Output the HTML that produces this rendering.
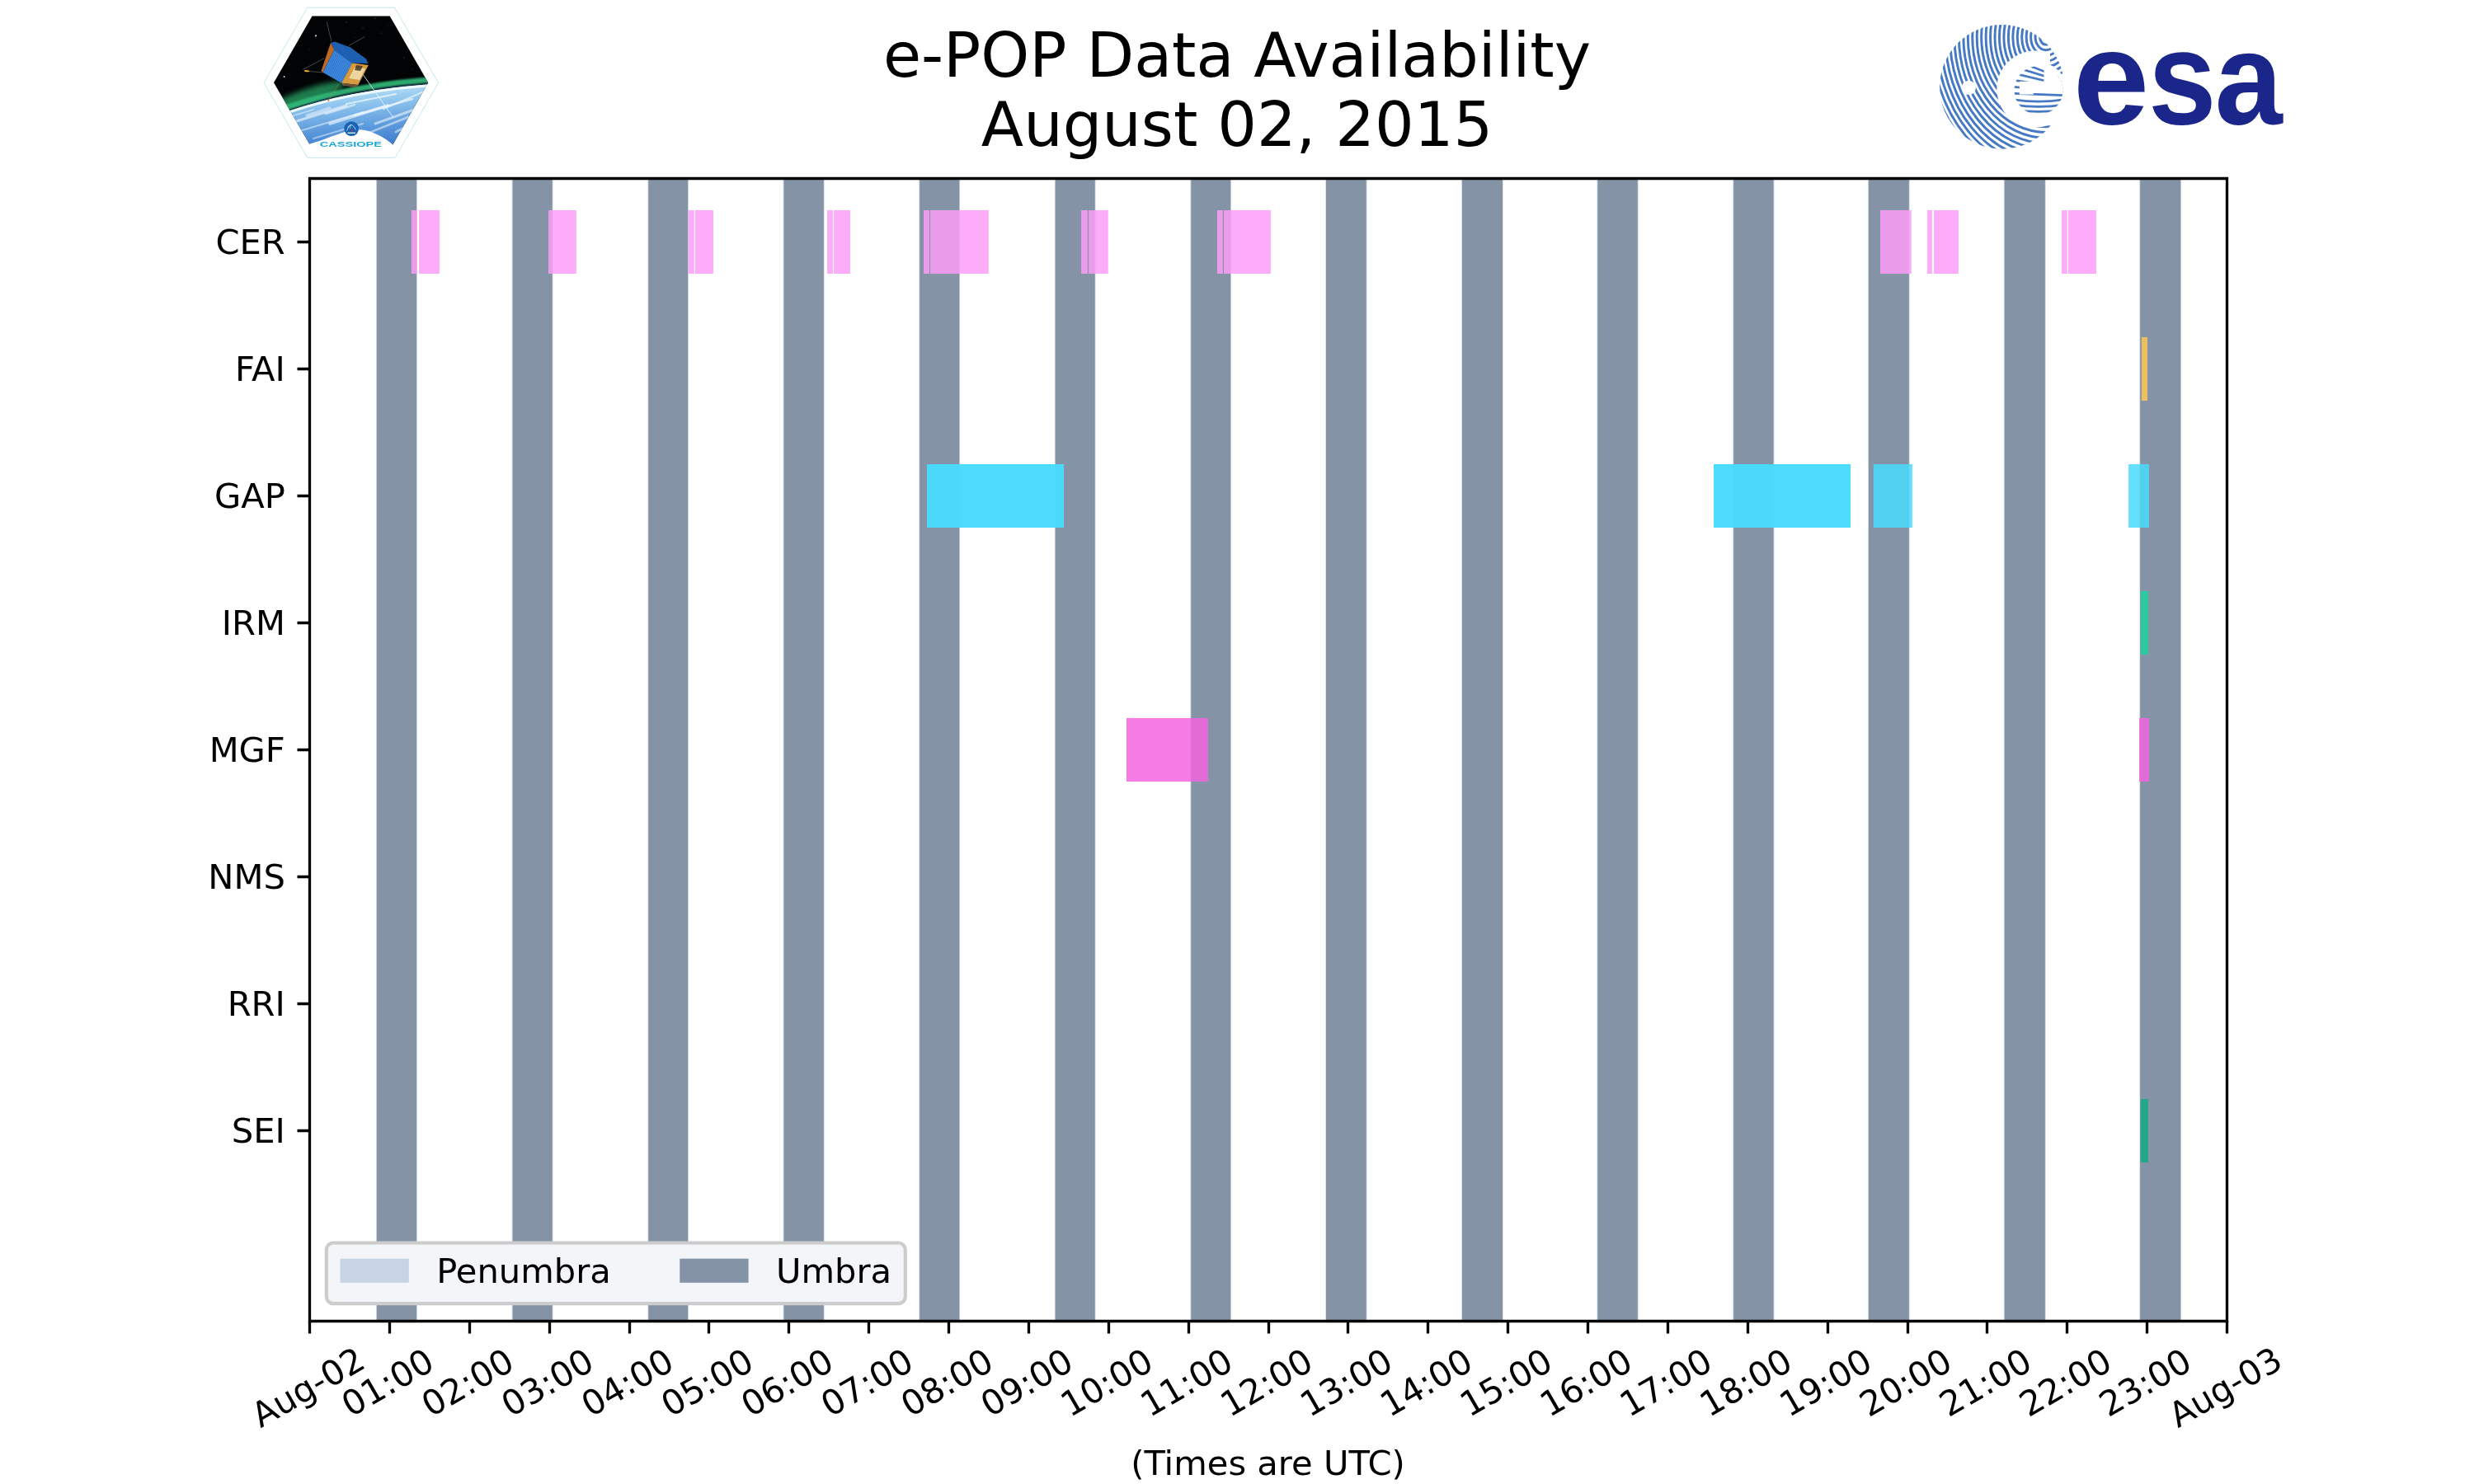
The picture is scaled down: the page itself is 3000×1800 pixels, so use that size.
<!DOCTYPE html>
<html><head><meta charset="utf-8"><title>e-POP Data Availability</title>
<style>html,body{margin:0;padding:0;background:#fff;}svg{display:block;will-change:transform}</style></head>
<body>
<svg width="3000" height="1800" viewBox="0 0 3000 1800" font-family="'DejaVu Sans', 'Liberation Sans', sans-serif" font-size="41.6667" fill="#000">
<rect width="3000" height="1800" fill="#fff"/>
<rect x="456.10" y="216" width="0.7" height="1386" fill="rgb(200,212,228)"/>
<rect x="505.10" y="216" width="0.7" height="1386" fill="rgb(200,212,228)"/>
<rect x="456.80" y="216" width="48.30" height="1386" fill="rgb(132,148,166)"/>
<rect x="620.80" y="216" width="0.7" height="1386" fill="rgb(200,212,228)"/>
<rect x="669.80" y="216" width="0.7" height="1386" fill="rgb(200,212,228)"/>
<rect x="621.50" y="216" width="48.30" height="1386" fill="rgb(132,148,166)"/>
<rect x="785.50" y="216" width="0.7" height="1386" fill="rgb(200,212,228)"/>
<rect x="834.20" y="216" width="0.7" height="1386" fill="rgb(200,212,228)"/>
<rect x="786.20" y="216" width="48.00" height="1386" fill="rgb(132,148,166)"/>
<rect x="949.70" y="216" width="0.7" height="1386" fill="rgb(200,212,228)"/>
<rect x="998.90" y="216" width="0.7" height="1386" fill="rgb(200,212,228)"/>
<rect x="950.40" y="216" width="48.50" height="1386" fill="rgb(132,148,166)"/>
<rect x="1114.40" y="216" width="0.7" height="1386" fill="rgb(200,212,228)"/>
<rect x="1163.40" y="216" width="0.7" height="1386" fill="rgb(200,212,228)"/>
<rect x="1115.10" y="216" width="48.30" height="1386" fill="rgb(132,148,166)"/>
<rect x="1278.90" y="216" width="0.7" height="1386" fill="rgb(200,212,228)"/>
<rect x="1327.80" y="216" width="0.7" height="1386" fill="rgb(200,212,228)"/>
<rect x="1279.60" y="216" width="48.20" height="1386" fill="rgb(132,148,166)"/>
<rect x="1443.50" y="216" width="0.7" height="1386" fill="rgb(200,212,228)"/>
<rect x="1492.30" y="216" width="0.7" height="1386" fill="rgb(200,212,228)"/>
<rect x="1444.20" y="216" width="48.10" height="1386" fill="rgb(132,148,166)"/>
<rect x="1607.30" y="216" width="0.7" height="1386" fill="rgb(200,212,228)"/>
<rect x="1656.80" y="216" width="0.7" height="1386" fill="rgb(200,212,228)"/>
<rect x="1608.00" y="216" width="48.80" height="1386" fill="rgb(132,148,166)"/>
<rect x="1772.30" y="216" width="0.7" height="1386" fill="rgb(200,212,228)"/>
<rect x="1822.00" y="216" width="0.7" height="1386" fill="rgb(200,212,228)"/>
<rect x="1773.00" y="216" width="49.00" height="1386" fill="rgb(132,148,166)"/>
<rect x="1936.50" y="216" width="0.7" height="1386" fill="rgb(200,212,228)"/>
<rect x="1985.90" y="216" width="0.7" height="1386" fill="rgb(200,212,228)"/>
<rect x="1937.20" y="216" width="48.70" height="1386" fill="rgb(132,148,166)"/>
<rect x="2101.40" y="216" width="0.7" height="1386" fill="rgb(200,212,228)"/>
<rect x="2150.70" y="216" width="0.7" height="1386" fill="rgb(200,212,228)"/>
<rect x="2102.10" y="216" width="48.60" height="1386" fill="rgb(132,148,166)"/>
<rect x="2265.20" y="216" width="0.7" height="1386" fill="rgb(200,212,228)"/>
<rect x="2314.90" y="216" width="0.7" height="1386" fill="rgb(200,212,228)"/>
<rect x="2265.90" y="216" width="49.00" height="1386" fill="rgb(132,148,166)"/>
<rect x="2429.90" y="216" width="0.7" height="1386" fill="rgb(200,212,228)"/>
<rect x="2479.90" y="216" width="0.7" height="1386" fill="rgb(200,212,228)"/>
<rect x="2430.60" y="216" width="49.30" height="1386" fill="rgb(132,148,166)"/>
<rect x="2594.40" y="216" width="0.7" height="1386" fill="rgb(200,212,228)"/>
<rect x="2644.30" y="216" width="0.7" height="1386" fill="rgb(200,212,228)"/>
<rect x="2595.10" y="216" width="49.20" height="1386" fill="rgb(132,148,166)"/>
<rect x="498.90" y="255" width="7.00" height="77" fill="rgb(251,157,247)" fill-opacity="0.85"/>
<rect x="508.00" y="255" width="24.90" height="77" fill="rgb(251,157,247)" fill-opacity="0.85"/>
<rect x="665.00" y="255" width="33.90" height="77" fill="rgb(251,157,247)" fill-opacity="0.85"/>
<rect x="834.60" y="255" width="7.20" height="77" fill="rgb(251,157,247)" fill-opacity="0.85"/>
<rect x="843.00" y="255" width="22.00" height="77" fill="rgb(251,157,247)" fill-opacity="0.85"/>
<rect x="1003.10" y="255" width="6.80" height="77" fill="rgb(251,157,247)" fill-opacity="0.85"/>
<rect x="1011.10" y="255" width="19.90" height="77" fill="rgb(251,157,247)" fill-opacity="0.85"/>
<rect x="1120.00" y="255" width="7.00" height="77" fill="rgb(251,157,247)" fill-opacity="0.85"/>
<rect x="1128.00" y="255" width="70.80" height="77" fill="rgb(251,157,247)" fill-opacity="0.85"/>
<rect x="1311.10" y="255" width="7.80" height="77" fill="rgb(251,157,247)" fill-opacity="0.85"/>
<rect x="1320.10" y="255" width="23.70" height="77" fill="rgb(251,157,247)" fill-opacity="0.85"/>
<rect x="1476.00" y="255" width="6.80" height="77" fill="rgb(251,157,247)" fill-opacity="0.85"/>
<rect x="1484.00" y="255" width="56.90" height="77" fill="rgb(251,157,247)" fill-opacity="0.85"/>
<rect x="2280.00" y="255" width="37.90" height="77" fill="rgb(251,157,247)" fill-opacity="0.85"/>
<rect x="2337.00" y="255" width="5.80" height="77" fill="rgb(251,157,247)" fill-opacity="0.85"/>
<rect x="2345.00" y="255" width="29.90" height="77" fill="rgb(251,157,247)" fill-opacity="0.85"/>
<rect x="2500.00" y="255" width="6.80" height="77" fill="rgb(251,157,247)" fill-opacity="0.85"/>
<rect x="2508.00" y="255" width="34.00" height="77" fill="rgb(251,157,247)" fill-opacity="0.85"/>
<rect x="2596.90" y="409" width="7.10" height="77" fill="rgb(254,200,84)" fill-opacity="0.85"/>
<rect x="1124.00" y="563" width="166.00" height="77" fill="rgb(73,219,252)" fill-opacity="0.85"/>
<rect x="1124.00" y="563" width="166.00" height="77" fill="rgb(73,219,252)" fill-opacity="0.85"/>
<rect x="2078.10" y="563" width="165.80" height="77" fill="rgb(73,219,252)" fill-opacity="0.85"/>
<rect x="2078.10" y="563" width="165.80" height="77" fill="rgb(73,219,252)" fill-opacity="0.85"/>
<rect x="2271.80" y="563" width="47.10" height="77" fill="rgb(73,219,252)" fill-opacity="0.85"/>
<rect x="2581.10" y="563" width="24.90" height="77" fill="rgb(73,219,252)" fill-opacity="0.85"/>
<rect x="2595.80" y="717" width="9.20" height="77" fill="rgb(28,209,159)" fill-opacity="0.85"/>
<rect x="1366.00" y="871" width="99.00" height="77" fill="rgb(242,101,223)" fill-opacity="0.85"/>
<rect x="2594.00" y="871" width="12.00" height="77" fill="rgb(242,101,223)" fill-opacity="0.85"/>
<rect x="2595.80" y="1333" width="9.20" height="77" fill="rgb(14,171,131)" fill-opacity="0.85"/>
<path d="M375.5 1602.5V216.5M2700.5 1602.5V216.5M375.5 1602.5H2700.5M375.5 216.5H2700.5" stroke="#000" stroke-width="3.333" stroke-linecap="square" fill="none"/>
<path d="M375.5 1602.5V1617.5M472.5 1602.5V1617.5M569.5 1602.5V1617.5M666.5 1602.5V1617.5M763.5 1602.5V1617.5M859.5 1602.5V1617.5M956.5 1602.5V1617.5M1053.5 1602.5V1617.5M1150.5 1602.5V1617.5M1247.5 1602.5V1617.5M1344.5 1602.5V1617.5M1441.5 1602.5V1617.5M1538.5 1602.5V1617.5M1634.5 1602.5V1617.5M1731.5 1602.5V1617.5M1828.5 1602.5V1617.5M1925.5 1602.5V1617.5M2022.5 1602.5V1617.5M2119.5 1602.5V1617.5M2216.5 1602.5V1617.5M2313.5 1602.5V1617.5M2409.5 1602.5V1617.5M2506.5 1602.5V1617.5M2603.5 1602.5V1617.5M2700.5 1602.5V1617.5M375.5 293.5H360.5M375.5 447.5H360.5M375.5 601.5H360.5M375.5 755.5H360.5M375.5 909.5H360.5M375.5 1063.5H360.5M375.5 1217.5H360.5M375.5 1371.5H360.5" stroke="#000" stroke-width="3.333" fill="none"/>
<text transform="translate(316.05 1732.39) rotate(-30)">Aug-02</text>
<text transform="translate(425.33 1719.62) rotate(-30)">01:00</text>
<text transform="translate(522.20 1719.62) rotate(-30)">02:00</text>
<text transform="translate(619.08 1719.62) rotate(-30)">03:00</text>
<text transform="translate(715.95 1719.62) rotate(-30)">04:00</text>
<text transform="translate(812.83 1719.62) rotate(-30)">05:00</text>
<text transform="translate(909.70 1719.62) rotate(-30)">06:00</text>
<text transform="translate(1006.58 1719.62) rotate(-30)">07:00</text>
<text transform="translate(1103.45 1719.62) rotate(-30)">08:00</text>
<text transform="translate(1200.33 1719.62) rotate(-30)">09:00</text>
<text transform="translate(1297.20 1719.62) rotate(-30)">10:00</text>
<text transform="translate(1394.08 1719.62) rotate(-30)">11:00</text>
<text transform="translate(1490.95 1719.62) rotate(-30)">12:00</text>
<text transform="translate(1587.83 1719.62) rotate(-30)">13:00</text>
<text transform="translate(1684.70 1719.62) rotate(-30)">14:00</text>
<text transform="translate(1781.58 1719.62) rotate(-30)">15:00</text>
<text transform="translate(1878.45 1719.62) rotate(-30)">16:00</text>
<text transform="translate(1975.33 1719.62) rotate(-30)">17:00</text>
<text transform="translate(2072.20 1719.62) rotate(-30)">18:00</text>
<text transform="translate(2169.08 1719.62) rotate(-30)">19:00</text>
<text transform="translate(2265.95 1719.62) rotate(-30)">20:00</text>
<text transform="translate(2362.83 1719.62) rotate(-30)">21:00</text>
<text transform="translate(2459.70 1719.62) rotate(-30)">22:00</text>
<text transform="translate(2556.58 1719.62) rotate(-30)">23:00</text>
<text transform="translate(2641.05 1732.39) rotate(-30)">Aug-03</text>
<text x="345.83" y="308.13" text-anchor="end">CER</text>
<text x="345.83" y="462.13" text-anchor="end">FAI</text>
<text x="345.83" y="616.13" text-anchor="end">GAP</text>
<text x="345.83" y="770.13" text-anchor="end">IRM</text>
<text x="345.83" y="924.13" text-anchor="end">MGF</text>
<text x="345.83" y="1078.13" text-anchor="end">NMS</text>
<text x="345.83" y="1232.13" text-anchor="end">RRI</text>
<text x="345.83" y="1386.13" text-anchor="end">SEI</text>
<text x="1537.50" y="1789.12" text-anchor="middle">(Times are UTC)</text>
<rect x="395.83" y="1507.51" width="701.96" height="73.66" rx="8.33" fill="rgb(244,245,249)" stroke="#ccc" stroke-width="4.167"/>
<rect x="412.50" y="1526.67" width="83.33" height="29.17" fill="rgb(200,212,228)"/>
<rect x="824.26" y="1526.67" width="83.33" height="29.17" fill="rgb(132,148,166)"/>
<text x="529.17" y="1555.83">Penumbra</text>
<text x="940.93" y="1555.83">Umbra</text>
<text x="1070.88" y="92.99" font-size="75">e-POP Data Availability</text>
<text x="1189.86" y="176.97" font-size="75">August 02, 2015</text>
<defs>
<clipPath id="hexc"><polygon points="378.5,19.4 472.7,19.4 519.2,100.3 476.3,175.5 375.3,174.7 332.0,100.3"/></clipPath>
<linearGradient id="earthg" x1="0" y1="0" x2="0.2" y2="1"><stop offset="0" stop-color="#eef9fe"/><stop offset="0.1" stop-color="#c4e6f8"/><stop offset="0.35" stop-color="#93c8ef"/><stop offset="0.7" stop-color="#5d9bdc"/><stop offset="1" stop-color="#3f7acb"/></linearGradient>
<linearGradient id="aurg" x1="0" y1="0" x2="0" y2="1"><stop offset="0" stop-color="#0c3a26" stop-opacity="0"/><stop offset="0.5" stop-color="#2aa468" stop-opacity="0.75"/><stop offset="0.85" stop-color="#3cc488"/><stop offset="1" stop-color="#145a48"/></linearGradient>
<filter id="blur1" x="-20%" y="-50%" width="140%" height="200%"><feGaussianBlur stdDeviation="2.2"/></filter>
<filter id="blur05"><feGaussianBlur stdDeviation="0.5"/></filter>
<filter id="blur13" x="-10%" y="-60%" width="120%" height="220%"><feGaussianBlur stdDeviation="1.3"/></filter>
<filter id="blur3" x="-20%" y="-80%" width="140%" height="260%"><feGaussianBlur stdDeviation="3"/></filter>
<pattern id="solar" patternUnits="userSpaceOnUse" width="2.2" height="40" patternTransform="rotate(26.6)"><rect width="2.2" height="40" fill="#3c8ae0"/><rect width="0.5" height="40" fill="#2a64b8"/></pattern>
</defs>
<polygon points="372.7,9.2 478.4,9.2 531.6,100.4 479.1,191.3 372.7,191.3 320.1,100.4" fill="#fff" stroke="#bfe3ea" stroke-width="0.9"/>
<g clip-path="url(#hexc)">
<rect x="330" y="18" width="192" height="160" fill="#020305"/>
<path d="M325 143.5 C 370 127, 430 108, 525 102 L525 185 L325 185 Z" fill="url(#earthg)"/>
<ellipse cx="372" cy="117" rx="48" ry="9" transform="rotate(-19 372 117)" fill="#2aa868" opacity="0.75" filter="url(#blur3)"/>
<path d="M325 143.5 C 370 127, 430 108, 525 102" transform="translate(0,-5.2)" fill="none" stroke="#33bc7a" stroke-width="7" opacity="0.9" filter="url(#blur13)"/>
<path d="M325 143.5 C 370 127, 430 108, 525 102" transform="translate(0,-1.2)" fill="none" stroke="#203860" stroke-width="1.6" opacity="0.6" filter="url(#blur05)"/>
<path d="M325 143.5 C 370 127, 430 108, 525 102" transform="translate(0,1.5)" fill="none" stroke="#f0faff" stroke-width="3" filter="url(#blur05)"/>
<g filter="url(#blur05)" stroke-linecap="round" fill="none" stroke="#f6fcff">
<line x1="350" y1="150" x2="420" y2="128" stroke-width="3" opacity="0.6"/>
<line x1="360" y1="160" x2="440" y2="136" stroke-width="2.2" opacity="0.5"/>
<line x1="400" y1="150" x2="470" y2="128" stroke-width="3.5" opacity="0.6"/>
<line x1="430" y1="140" x2="500" y2="120" stroke-width="2.5" opacity="0.65"/>
<line x1="380" y1="168" x2="440" y2="150" stroke-width="2" opacity="0.45"/>
<line x1="455" y1="150" x2="505" y2="132" stroke-width="3" opacity="0.55"/>
<line x1="340" y1="145" x2="380" y2="133" stroke-width="1.8" opacity="0.5"/>
<line x1="420" y1="126" x2="480" y2="114" stroke-width="2" opacity="0.7"/>
<line x1="372" y1="140" x2="400" y2="131" stroke-width="3" opacity="0.5"/>
<line x1="445" y1="162" x2="495" y2="142" stroke-width="2.5" opacity="0.5"/>
<line x1="465" y1="132" x2="512" y2="112" stroke-width="2.2" opacity="0.6"/>
<line x1="395" y1="138" x2="430" y2="127" stroke-width="2.6" opacity="0.55"/>
<line x1="388" y1="172" x2="425" y2="160" stroke-width="1.8" opacity="0.4"/>
<line x1="480" y1="160" x2="500" y2="150" stroke-width="3" opacity="0.5"/>
</g>
<circle cx="383" cy="43.3" r="1.1" fill="#d8d0ff"/>
<circle cx="344.6" cy="93" r="1.0" fill="#d8d0ff"/>
<circle cx="420" cy="27" r="0.4" fill="#ccc"/>
<circle cx="440" cy="34" r="0.4" fill="#bbb"/>
<circle cx="455" cy="22" r="0.4" fill="#ccc"/>
<circle cx="462" cy="40" r="0.4" fill="#aaa"/>
<circle cx="375" cy="60" r="0.35" fill="#aaa"/>
<circle cx="360" cy="75" r="0.35" fill="#aaa"/>
<circle cx="490" cy="70" r="0.4" fill="#bbb"/>
<circle cx="500" cy="84" r="0.35" fill="#aaa"/>
<circle cx="430" cy="45" r="0.35" fill="#bbb"/>
<circle cx="470" cy="30" r="0.35" fill="#bbb"/>
<circle cx="352" cy="90" r="0.3" fill="#999"/>
<g stroke="#9a9a9a" stroke-width="0.45" fill="none"><line x1="396.3" y1="26.3" x2="402" y2="50.6"/><line x1="442.4" y1="44.5" x2="423" y2="55.4"/><line x1="367.2" y1="84.5" x2="393" y2="70.8"/><line x1="369.6" y1="86.1" x2="391.4" y2="87.8"/><line x1="410.8" y1="101.5" x2="398.3" y2="121.9" stroke="#c08040"/></g>
<line x1="438.3" y1="87.8" x2="477.1" y2="142.8" stroke="#eaf6ff" stroke-width="0.9" opacity="0.9"/>
<ellipse cx="372" cy="86.2" rx="3.2" ry="1.1" fill="#f0a030" transform="rotate(5 372 86.2)"/>
<circle cx="398.3" cy="121.9" r="1.1" fill="#e08a30"/>
<polygon points="401,52 406,50.5 425,57.5 444,71.5 446.5,77 427,76.5 405.2,60.3" fill="#1d5fb0"/>
<polygon points="401,52 405.2,60.3 391.4,87.8 389.5,86" fill="#c06a20"/>
<polygon points="405.2,60.3 427,76.5 414.1,100.7 391.4,87.8" fill="url(#solar)"/>
<polygon points="427,76.5 446.8,78.9 434.3,103.1 414.1,100.7" fill="#d89a40"/>
<polygon points="430,82 443,83 436,97 423,95" fill="#efe0b0" opacity="0.85"/>
<polygon points="432,79 440,80 437,86 430,85" fill="#3a3020" opacity="0.8"/>
<polygon points="414.1,100.7 434.3,103.1 432,106 416,104" fill="#806040" opacity="0.8"/>
</g>
<path d="M372 176 L375.3 174.7 C 392 170, 406 163.5, 420 159.5 C 428 157.3, 436 156.6, 443 158 C 456 161, 468 168, 476.3 175.5 L 480 184 L 370 184 Z" fill="#fff"/>
<circle cx="426.2" cy="156.1" r="8.9" fill="#1762b4"/>
<path d="M420.5 158.5 Q 424 150.5 427 151.5 Q 429.5 153 431.5 157.5" fill="none" stroke="#fff" stroke-width="0.7"/>
<path d="M421 154.5 L 425.5 151 L 424.5 156" fill="none" stroke="#fff" stroke-width="0.5"/>
<circle cx="426.6" cy="158.3" r="1" fill="#e02020"/>
<rect x="421.5" y="160.6" width="9.5" height="1.4" fill="#dfefff"/>
<text x="387.8" y="178.3" font-family="'Liberation Sans', sans-serif" font-weight="bold" font-size="8.9" fill="#19a6de" textLength="75.2" lengthAdjust="spacingAndGlyphs">CASSIOPE</text>
<defs>
<clipPath id="globec"><circle cx="2427.5" cy="105.4" r="75.4"/></clipPath>
<clipPath id="wclip"><rect x="2400" y="40" width="86" height="70"/><rect x="2400" y="110" width="120" height="80"/></clipPath>
<clipPath id="ec"><circle cx="2472" cy="109.5" r="29.5"/></clipPath>
<mask id="outm"><rect x="2340" y="20" width="180" height="180" fill="#fff"/><g clip-path="url(#wclip)"><circle cx="2467.8" cy="108.1" r="46.5" fill="#000"/></g><circle cx="2472" cy="109.5" r="34" fill="#000"/><circle cx="2387.3" cy="106.3" r="8.6" fill="#000"/></mask>
</defs>
<g clip-path="url(#globec)"><g mask="url(#outm)" fill="none" stroke="#4579c4" stroke-width="2.95">
<ellipse cx="2481" cy="45" rx="7.50" ry="9.15"/>
<ellipse cx="2481" cy="45" rx="12.95" ry="15.80"/>
<ellipse cx="2481" cy="45" rx="18.40" ry="22.45"/>
<ellipse cx="2481" cy="45" rx="23.85" ry="29.10"/>
<ellipse cx="2481" cy="45" rx="29.30" ry="35.75"/>
<ellipse cx="2481" cy="45" rx="34.75" ry="42.39"/>
<ellipse cx="2481" cy="45" rx="40.20" ry="49.04"/>
<ellipse cx="2481" cy="45" rx="45.65" ry="55.69"/>
<ellipse cx="2481" cy="45" rx="51.10" ry="62.34"/>
<ellipse cx="2481" cy="45" rx="56.55" ry="68.99"/>
<ellipse cx="2481" cy="45" rx="62.00" ry="75.64"/>
<ellipse cx="2481" cy="45" rx="67.45" ry="82.29"/>
<ellipse cx="2481" cy="45" rx="72.90" ry="88.94"/>
<ellipse cx="2481" cy="45" rx="78.35" ry="95.59"/>
<ellipse cx="2481" cy="45" rx="83.80" ry="102.24"/>
<ellipse cx="2481" cy="45" rx="89.25" ry="108.89"/>
<ellipse cx="2481" cy="45" rx="94.70" ry="115.53"/>
<ellipse cx="2481" cy="45" rx="100.15" ry="122.18"/>
<ellipse cx="2481" cy="45" rx="105.60" ry="128.83"/>
<ellipse cx="2481" cy="45" rx="111.05" ry="135.48"/>
<ellipse cx="2481" cy="45" rx="116.50" ry="142.13"/>
<ellipse cx="2481" cy="45" rx="121.95" ry="148.78"/>
<ellipse cx="2481" cy="45" rx="127.40" ry="155.43"/>
<ellipse cx="2481" cy="45" rx="132.85" ry="162.08"/>
<ellipse cx="2481" cy="45" rx="138.30" ry="168.73"/>
<ellipse cx="2481" cy="45" rx="143.75" ry="175.38"/>
<ellipse cx="2481" cy="45" rx="149.20" ry="182.02"/>
<ellipse cx="2481" cy="45" rx="154.65" ry="188.67"/>
<ellipse cx="2481" cy="45" rx="160.10" ry="195.32"/>
<ellipse cx="2481" cy="45" rx="165.55" ry="201.97"/>
<ellipse cx="2481" cy="45" rx="171.00" ry="208.62"/>
</g></g>
<g clip-path="url(#ec)">
<g fill="none" stroke="#4579c4" stroke-width="2.7">
<path d="M2439.5 71.65 Q 2472 84.00 2504.5 96.35"/>
<path d="M2439.5 80.00 Q 2472 90.10 2504.5 100.20"/>
<path d="M2439.5 88.34 Q 2472 96.20 2504.5 104.06"/>
<path d="M2439.5 96.69 Q 2472 102.30 2504.5 107.91"/>
<path d="M2439.5 105.03 Q 2472 108.40 2504.5 111.77"/>
<path d="M2439.5 113.38 Q 2472 114.50 2504.5 115.62"/>
<path d="M2439.5 120.60 Q 2472 125.80 2504.5 120.60"/>
<path d="M2439.5 126.70 Q 2472 131.90 2504.5 126.70"/>
<path d="M2439.5 132.80 Q 2472 138.00 2504.5 132.80"/>
<path d="M2439.5 138.90 Q 2472 144.10 2504.5 138.90"/>
<path d="M2439.5 145.00 Q 2472 150.20 2504.5 145.00"/>
</g>
<rect x="2448.8" y="98.8" width="60" height="14.2" fill="#fff"/>
<rect x="2478.5" y="70" width="30" height="30" fill="#fff"/>
<rect x="2448.8" y="112" width="17" height="2.6" fill="#fff"/>
</g>
<text transform="translate(2513.70 150.32) scale(1.0318 1)" font-family="'Liberation Sans', sans-serif" font-weight="bold" font-size="161.16" fill="rgb(26,38,138)">e</text>
<text transform="translate(2604.97 150.32) scale(0.9227 1)" font-family="'Liberation Sans', sans-serif" font-weight="bold" font-size="161.01" fill="rgb(26,38,138)">s</text>
<text transform="translate(2685.68 149.74) scale(0.9262 1)" font-family="'Liberation Sans', sans-serif" font-weight="bold" font-size="159.15" fill="rgb(26,38,138)">a</text>
</svg>
</body></html>
